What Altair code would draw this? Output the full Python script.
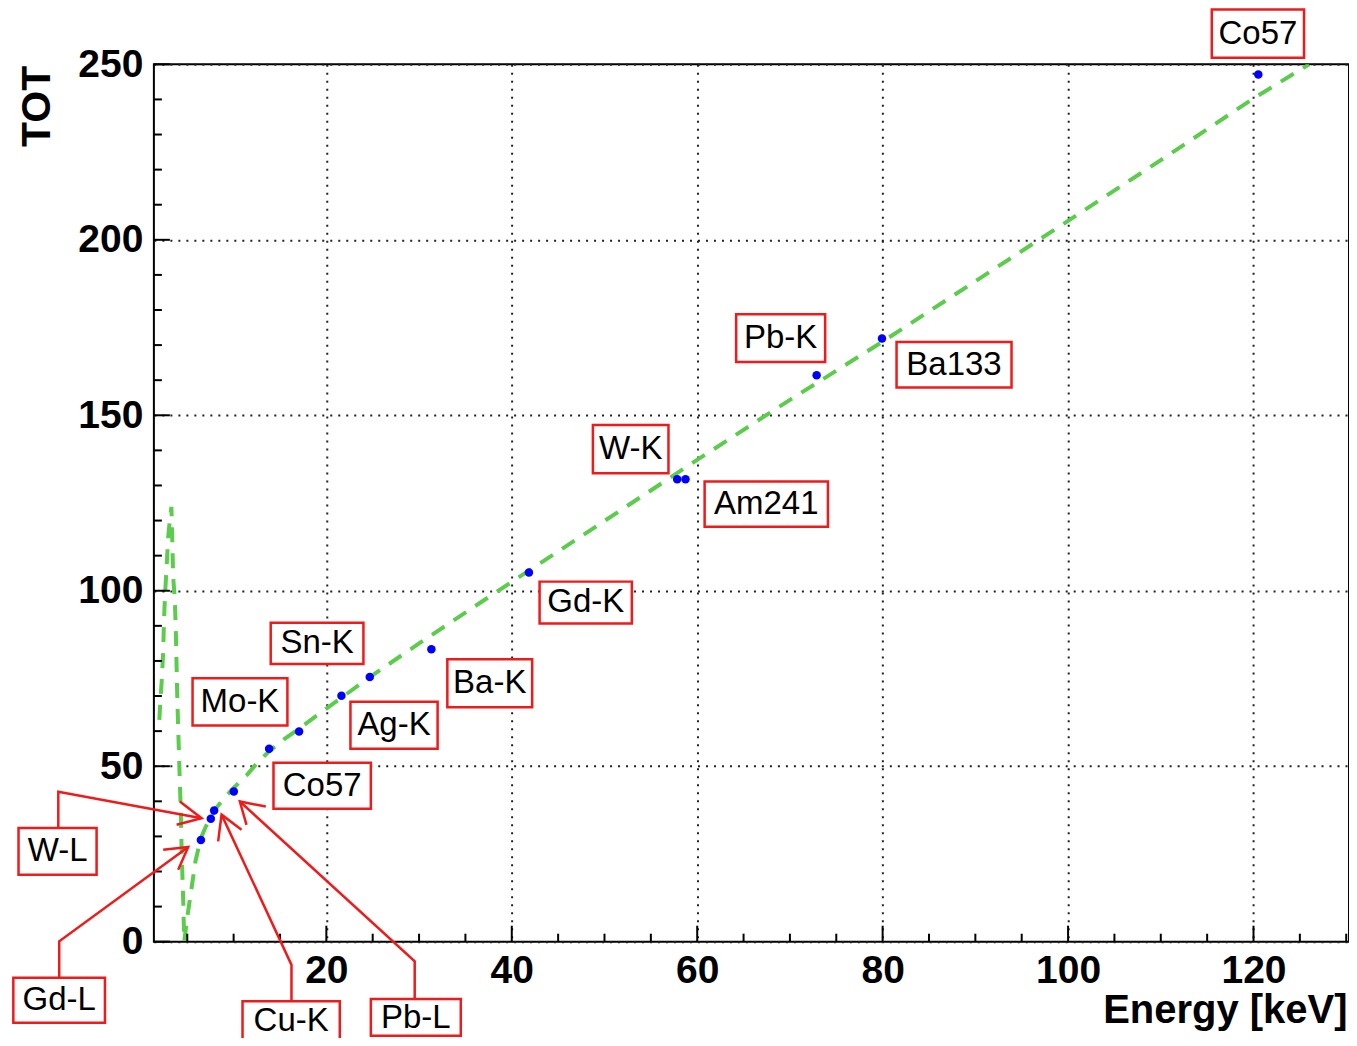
import altair as alt
import pandas as pd

# ---- calibration points (Energy keV, TOT) ----
pt_E = [6.47, 7.54, 7.90, 10.02, 13.83, 17.06, 21.63, 24.68, 31.33, 41.85, 57.84, 58.74, 72.88, 79.93, 120.52]
pt_T = [29.0, 35.0, 37.4, 42.8, 55.0, 59.9, 70.1, 75.4, 83.3, 105.2, 131.8, 131.8, 161.4, 171.9, 247.1]

# ---- fitted curve as drawn ----
curve_E = [1.99, 2.10, 2.23, 2.40, 2.48, 2.59, 2.77, 2.94, 3.12, 3.29,
           3.48, 3.66, 3.77, 3.85, 3.91, 4.02, 4.20, 4.31, 4.39, 4.56, 4.67,
           5.0, 5.42, 5.89, 6.47, 7.0, 7.54, 8.16, 9.0, 10.0, 11.4, 12.5, 13.8,
           15.5, 17.1, 20.0, 24.7, 30.0, 37.8, 45.0, 50.0, 60.0, 70.0, 80.0,
           90.0, 100.0, 110.0, 120.0, 126.0]
curve_T = [63.2, 68.9, 73.7, 82.3, 90.8, 98.2, 106.8, 115.3, 120.2, 123.9,
           103.9, 97.4, 88.0, 78.3, 70.9, 60.9, 45.3, 36.7, 26.2, 12.0, 0.0,
           7.0, 14.5, 23.0, 29.5, 32.8, 35.5, 38.2, 41.0, 43.8, 47.4, 50.8, 54.2,
           57.8, 60.8, 66.4, 75.4, 85.0, 98.7, 111.2, 119.9, 137.3, 154.4, 171.0,
           188.2, 205.4, 222.7, 240.3, 250.0]

# ---- label boxes ----
box_label = ["Co57", "Pb-K", "Ba133", "W-K", "Am241", "Gd-K", "Ba-K", "Sn-K",
             "Mo-K", "Ag-K", "Co57", "W-L", "Gd-L", "Cu-K", "Pb-L"]
box_x1 = [115.5, 64.2, 81.5, 48.75, 60.8, 43.0, 33.05, 14.0, 5.57, 22.6, 14.3, -13.2, -13.76, 10.96, 24.8]
box_x2 = [125.45, 73.8, 93.9, 56.9, 74.1, 52.95, 42.2, 24.0, 15.8, 32.0, 24.8, -4.78, -3.88, 21.45, 34.5]
box_y1 = [251.9, 165.2, 157.9, 133.5, 118.25, 90.7, 66.8, 79.1, 61.6, 55.0, 37.9, 19.1, -23.1, -30.75, -26.8]
box_y2 = [265.6, 178.8, 170.9, 147.2, 131.1, 102.6, 80.5, 90.9, 75.1, 68.4, 51.0, 32.4, -10.3, -17.0, -16.3]
text_y = [258.75, 172.0, 164.4, 140.35, 124.7, 96.7, 73.65, 85.0, 68.35, 61.7, 44.45, 25.75, -16.7, -22.6, -21.8]

# ---- annotation arrows (shaft polyline + arrowhead polyline) ----
arrow_group = ["WL", "WL", "WL", "WLh", "WLh", "WLh",
               "GdL", "GdL", "GdL", "GdLh", "GdLh", "GdLh",
               "CuK", "CuK", "CuK", "CuKh", "CuKh", "CuKh",
               "PbL", "PbL", "PbL", "PbLh", "PbLh", "PbLh"]
arrow_E = [-8.91, -8.91, 6.54, 4.20, 6.54, 3.85,
           -8.81, -8.81, 5.10, 2.40, 5.10, 4.02,
           16.24, 16.24, 8.70, 8.33, 8.70, 10.85,
           29.53, 29.53, 10.67, 11.39, 10.67, 13.47]
arrow_T = [32.5, 42.7, 35.2, 39.95, 35.2, 33.3,
           -10.25, 0.1, 27.0, 26.2, 27.0, 20.5,
           -17.0, -6.6, 36.2, 28.6, 36.2, 31.9,
           -16.2, -5.6, 39.95, 33.3, 39.95, 38.5]

# ---- axes ----
x_major = [20, 40, 60, 80, 100, 120]
x_minor = [v for v in range(5, 131, 5) if v % 20 != 0]
y_major = [0, 50, 100, 150, 200, 250]
y_minor = [v for v in range(10, 250, 10) if v % 50 != 0]

W, H = 1196, 878
FONT = "Liberation Sans"
RED = "#f01a1a"
xs = alt.Scale(domain=[1.4, 130.3], nice=False, zero=False)
ys = alt.Scale(domain=[0, 250], nice=False, zero=False)

pts = pd.DataFrame({"E": pt_E, "T": pt_T})
curve = pd.DataFrame({"E": curve_E, "T": curve_T, "o": list(range(len(curve_E)))})
boxes = pd.DataFrame({"E": box_x1, "E2": box_x2, "T": box_y1, "T2": box_y2})
texts = pd.DataFrame({"E": [(a + b) / 2 for a, b in zip(box_x1, box_x2)], "T": text_y, "label": box_label})
arrows = pd.DataFrame({"E": arrow_E, "T": arrow_T, "g": arrow_group, "o": list(range(len(arrow_E)))})

xaxis = alt.Axis(values=x_major, format="d", labelFont=FONT, labelFontSize=39, labelFontWeight="bold",
                 labelColor="black", labelPadding=10, labelFlush=False, ticks=False, tickSize=0,
                 domain=False, grid=True, gridColor="#222222", gridDash=[2, 6], gridWidth=2,
                 title="Energy [keV]", titleFont=FONT, titleFontSize=40, titleFontWeight="bold",
                 titleColor="black", titleX=1194, titleY=81, titleAlign="right",
                 titleBaseline="alphabetic")
yaxis = alt.Axis(values=y_major, format="d", labelFont=FONT, labelFontSize=39, labelFontWeight="bold",
                 labelColor="black", labelPadding=11, labelFlush=False, ticks=False, tickSize=0,
                 domain=False, grid=True, gridColor="#222222", gridDash=[2, 6], gridWidth=2,
                 title="TOT", titleFont=FONT, titleFontSize=41, titleFontWeight="bold",
                 titleColor="black", titleX=-116.5, titleY=1, titleAngle=270, titleAlign="right",
                 titleBaseline="middle")

line = alt.Chart(curve).mark_line(color="#5ccc4c", strokeWidth=4, strokeDash=[15, 11], clip=True).encode(
    x=alt.X("E:Q", scale=xs, axis=xaxis),
    y=alt.Y("T:Q", scale=ys, axis=yaxis),
    order="o:Q",
)
points = alt.Chart(pts).mark_circle(size=72, color="#0000ff", opacity=1).encode(
    x=alt.X("E:Q", scale=xs), y=alt.Y("T:Q", scale=ys))

xt_major = alt.Chart(pd.DataFrame({"E": x_major})).mark_rule(color="black", strokeWidth=2).encode(
    x=alt.X("E:Q", scale=xs), y=alt.value(H), y2=alt.value(H - 16))
xt_minor = alt.Chart(pd.DataFrame({"E": x_minor})).mark_rule(color="black", strokeWidth=2).encode(
    x=alt.X("E:Q", scale=xs), y=alt.value(H), y2=alt.value(H - 8))
yt_major = alt.Chart(pd.DataFrame({"T": y_major})).mark_rule(color="black", strokeWidth=2).encode(
    y=alt.Y("T:Q", scale=ys), x=alt.value(0), x2=alt.value(16))
yt_minor = alt.Chart(pd.DataFrame({"T": y_minor})).mark_rule(color="black", strokeWidth=2).encode(
    y=alt.Y("T:Q", scale=ys), x=alt.value(0), x2=alt.value(8))

arrow_lines = alt.Chart(arrows).mark_line(color=RED, strokeWidth=2.5).encode(
    x=alt.X("E:Q", scale=xs), y=alt.Y("T:Q", scale=ys), detail="g:N", order="o:Q")
rects = alt.Chart(boxes).mark_rect(fill="white", stroke=RED, strokeWidth=2.5).encode(
    x=alt.X("E:Q", scale=xs), x2="E2:Q", y=alt.Y("T:Q", scale=ys), y2="T2:Q")
labels = alt.Chart(texts).mark_text(font=FONT, fontSize=33, color="black", align="center",
                                    baseline="middle").encode(
    x=alt.X("E:Q", scale=xs), y=alt.Y("T:Q", scale=ys), text="label:N")

chart = alt.layer(line, xt_major, xt_minor, yt_major, yt_minor, points, arrow_lines, rects, labels).properties(
    width=W, height=H,
    autosize=alt.AutoSizeParams(type="none"),
    padding={"left": 146, "top": 56, "right": 0, "bottom": 96},
    background="white",
).configure_view(stroke="black", strokeWidth=2)

chart.save("out.html", embed_options={"renderer": "svg", "actions": False})
